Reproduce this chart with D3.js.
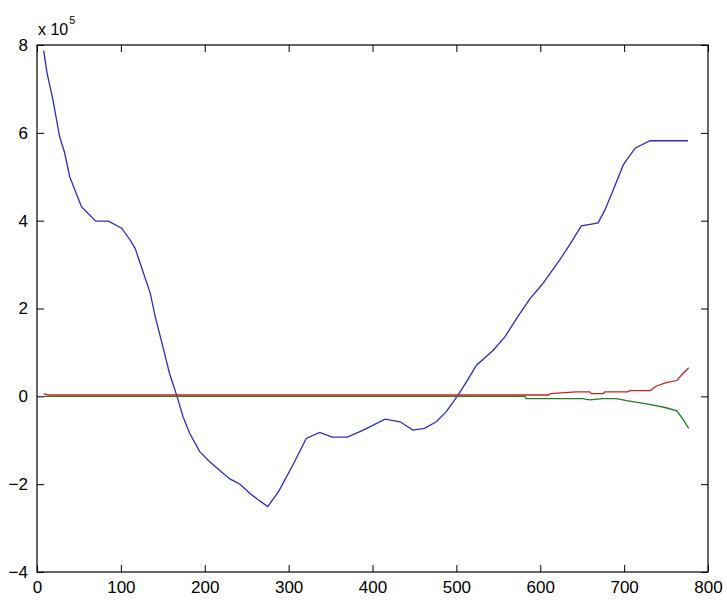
<!DOCTYPE html>
<html>
<head>
<meta charset="utf-8">
<script src="https://cdn.jsdelivr.net/npm/d3@7"></script>
<style>
  html, body { margin: 0; padding: 0; background: #fff; }
  svg { display: block; }
  text { font-family: "Liberation Sans", Arial, sans-serif; fill: #000; }
</style>
</head>
<body>
<script>
// Series samples: [x, value in units of 1e5]
const blueSeries = [
  [8,7.87],[12,7.36],[19,6.75],[27,5.91],[33,5.54],[39,5.0],[53,4.32],[70,3.99],[85,3.99],
  [101,3.83],[111,3.56],[117,3.37],[123,3.03],[135,2.35],[141,1.81],[149,1.21],[158,0.52],
  [167,0],[174,-0.46],[182,-0.84],[194,-1.26],[206,-1.49],[218,-1.69],[230,-1.88],[242,-2.0],
  [254,-2.21],[264,-2.36],[275,-2.51],[288,-2.17],[306,-1.53],[321,-0.96],[337,-0.82],
  [352,-0.93],[370,-0.93],[389,-0.77],[415,-0.52],[433,-0.58],[448,-0.77],[462,-0.73],
  [476,-0.58],[488,-0.35],[502,0.03],[512,0.33],[524,0.71],[544,1.05],[558,1.36],[572,1.78],
  [588,2.23],[602,2.54],[623,3.10],[635,3.45],[649,3.88],[661,3.92],[669,3.95],[677,4.24],
  [687,4.70],[699,5.27],[713,5.65],[731,5.82],[776,5.82]
];
const greenSeries = [
  [8,0],[582,0],[583,-0.05],[650,-0.05],[659,-0.08],[675,-0.05],[691,-0.05],[703,-0.1],
  [723,-0.16],[735,-0.2],[750,-0.26],[763,-0.33],[770,-0.52],[777,-0.73]
];
const redSeries = [
  [8,0.06],[14,0.03],[610,0.03],[612,0.06],[643,0.1],[659,0.1],[661,0.06],[675,0.06],
  [677,0.1],[704,0.1],[707,0.13],[731,0.13],[738,0.23],[750,0.31],[763,0.36],[770,0.52],[777,0.65]
];
const xTicks = [0,100,200,300,400,500,600,700,800];
const yTicks = [-4,-2,0,2,4,6,8];
const exponentBase = "x 10";
const exponentPower = "5";

const W = 727, H = 600;
const L = 37, T = 45, R = 708, B = 572;

const svg = d3.select("body").append("svg").attr("width", W).attr("height", H);

const x = d3.scaleLinear().domain([0, 800]).range([L, R]);
const y = d3.scaleLinear().domain([-4, 8]).range([B, T]);

const line = d3.line().x(d => x(d[0])).y(d => y(d[1]));

// series, drawn in column order
const series = [
  {data: blueSeries, color: "#2c2cc4"},
  {data: greenSeries, color: "#1f7f1f"},
  {data: redSeries, color: "#cc2020"}
];
const plot = svg.append("g");
series.forEach(s => {
  plot.append("path").datum(s.data).attr("d", line)
    .attr("fill", "none").attr("stroke", s.color).attr("stroke-width", 1.3);
});

// inward ticks on all four sides
const tickLen = 7;
const axBottom = svg.append("g").attr("transform", `translate(0,${B})`)
  .call(d3.axisBottom(x).tickValues(xTicks).tickSizeInner(-tickLen).tickSizeOuter(0).tickPadding(9));
const axTop = svg.append("g").attr("transform", `translate(0,${T})`)
  .call(d3.axisTop(x).tickValues(xTicks).tickSizeInner(-tickLen).tickSizeOuter(0).tickFormat(""));
const axLeft = svg.append("g").attr("transform", `translate(${L},0)`)
  .call(d3.axisLeft(y).tickValues(yTicks).tickSizeInner(-tickLen).tickSizeOuter(0).tickPadding(9));
const axRight = svg.append("g").attr("transform", `translate(${R},0)`)
  .call(d3.axisRight(y).tickValues(yTicks).tickSizeInner(-tickLen).tickSizeOuter(0).tickFormat(""));

[axBottom, axTop, axLeft, axRight].forEach(g => {
  g.select(".domain").remove();
  g.selectAll("line").attr("stroke", "#000").attr("stroke-width", 1);
  g.selectAll("text").attr("font-size", 17).attr("font-family", "'Liberation Sans', Arial, sans-serif").attr("fill", "#000");
});

// box
svg.append("rect").attr("x", L).attr("y", T).attr("width", R - L).attr("height", B - T)
  .attr("fill", "none").attr("stroke", "#000").attr("stroke-width", 1.2);

// exponent label
const ex = svg.append("text").attr("x", 38).attr("y", 35).attr("font-size", 16);
ex.append("tspan").text(exponentBase);
ex.append("tspan").attr("dy", -11).attr("dx", 1).attr("font-size", 11).text(exponentPower);
</script>
</body>
</html>
